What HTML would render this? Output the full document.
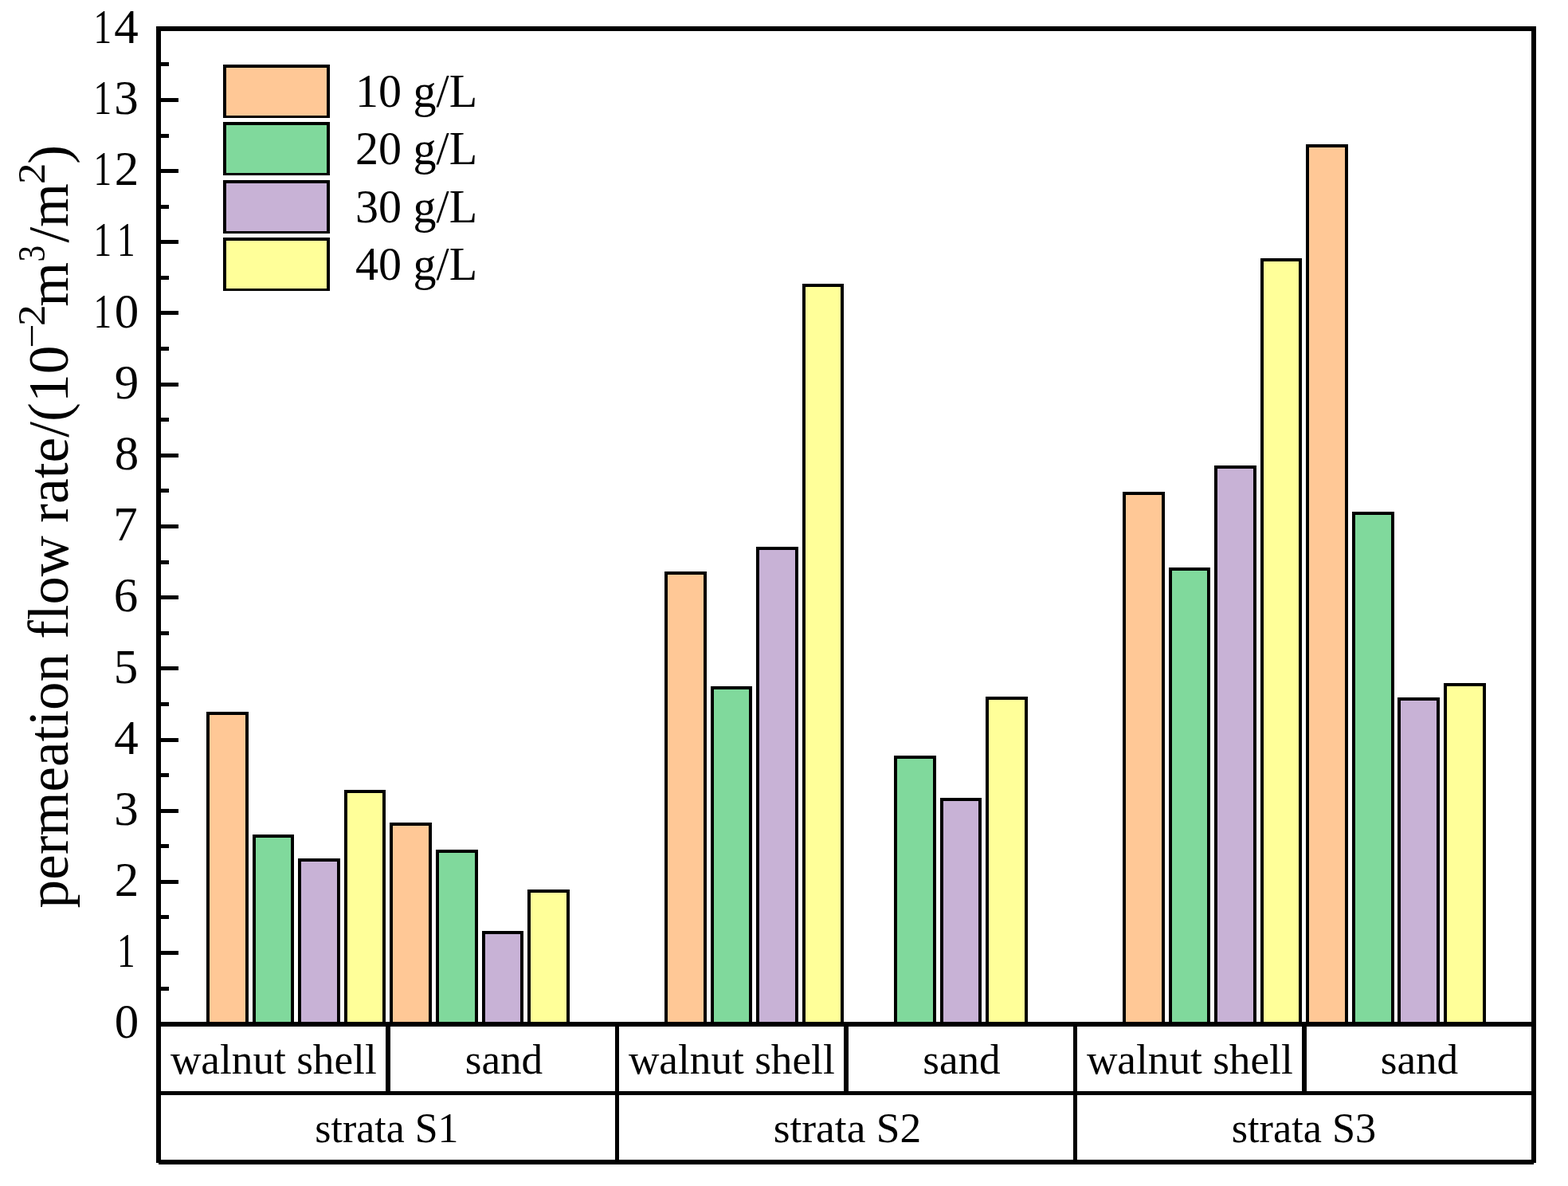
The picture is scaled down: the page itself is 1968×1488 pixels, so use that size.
<!DOCTYPE html>
<html><head><meta charset="utf-8"><style>
html,body{margin:0;padding:0;background:#fff;}
body{width:1968px;height:1488px;overflow:hidden;}
svg{display:block;}
text{font-family:"Liberation Serif","Times New Roman",serif;fill:#000;}
</style></head><body>
<svg width="1968" height="1488" viewBox="0 0 1968 1488">
<rect width="1968" height="1488" fill="#fff"/>
<rect x="259" y="893" width="53" height="391" fill="#000"/>
<rect x="263" y="897" width="45" height="387" fill="#FFC896"/>
<rect x="317" y="1047" width="52" height="237" fill="#000"/>
<rect x="321" y="1051" width="44" height="233" fill="#80D99C"/>
<rect x="374" y="1077" width="53" height="207" fill="#000"/>
<rect x="378" y="1081" width="45" height="203" fill="#C8B2D6"/>
<rect x="432" y="991" width="52" height="293" fill="#000"/>
<rect x="436" y="995" width="44" height="289" fill="#FFFF99"/>
<rect x="489" y="1032" width="53" height="252" fill="#000"/>
<rect x="493" y="1036" width="45" height="248" fill="#FFC896"/>
<rect x="547" y="1066" width="53" height="218" fill="#000"/>
<rect x="551" y="1070" width="45" height="214" fill="#80D99C"/>
<rect x="605" y="1168" width="52" height="116" fill="#000"/>
<rect x="609" y="1172" width="44" height="112" fill="#C8B2D6"/>
<rect x="662" y="1116" width="53" height="168" fill="#000"/>
<rect x="666" y="1120" width="45" height="164" fill="#FFFF99"/>
<rect x="834" y="717" width="53" height="567" fill="#000"/>
<rect x="838" y="721" width="45" height="563" fill="#FFC896"/>
<rect x="892" y="861" width="52" height="423" fill="#000"/>
<rect x="896" y="865" width="44" height="419" fill="#80D99C"/>
<rect x="949" y="686" width="53" height="598" fill="#000"/>
<rect x="953" y="690" width="45" height="594" fill="#C8B2D6"/>
<rect x="1007" y="356" width="52" height="928" fill="#000"/>
<rect x="1011" y="360" width="44" height="924" fill="#FFFF99"/>
<rect x="1122" y="948" width="53" height="336" fill="#000"/>
<rect x="1126" y="952" width="45" height="332" fill="#80D99C"/>
<rect x="1180" y="1001" width="52" height="283" fill="#000"/>
<rect x="1184" y="1005" width="44" height="279" fill="#C8B2D6"/>
<rect x="1237" y="874" width="53" height="410" fill="#000"/>
<rect x="1241" y="878" width="45" height="406" fill="#FFFF99"/>
<rect x="1409" y="617" width="53" height="667" fill="#000"/>
<rect x="1413" y="621" width="45" height="663" fill="#FFC896"/>
<rect x="1467" y="712" width="52" height="572" fill="#000"/>
<rect x="1471" y="716" width="44" height="568" fill="#80D99C"/>
<rect x="1524" y="584" width="53" height="700" fill="#000"/>
<rect x="1528" y="588" width="45" height="696" fill="#C8B2D6"/>
<rect x="1582" y="324" width="52" height="960" fill="#000"/>
<rect x="1586" y="328" width="44" height="956" fill="#FFFF99"/>
<rect x="1639" y="181" width="53" height="1103" fill="#000"/>
<rect x="1643" y="185" width="45" height="1099" fill="#FFC896"/>
<rect x="1697" y="642" width="53" height="642" fill="#000"/>
<rect x="1701" y="646" width="45" height="638" fill="#80D99C"/>
<rect x="1754" y="875" width="53" height="409" fill="#000"/>
<rect x="1758" y="879" width="45" height="405" fill="#C8B2D6"/>
<rect x="1812" y="857" width="53" height="427" fill="#000"/>
<rect x="1816" y="861" width="45" height="423" fill="#FFFF99"/>
<rect x="196" y="33" width="1732" height="6"/>
<rect x="196" y="33" width="6" height="1426"/>
<rect x="1922" y="33" width="6" height="1426"/>
<rect x="196" y="1282" width="1732" height="6"/>
<rect x="199" y="1369" width="1726" height="5"/>
<rect x="199" y="1455" width="1726" height="6"/>
<rect x="484" y="1288" width="6" height="81"/>
<rect x="772" y="1288" width="5" height="167"/>
<rect x="1059" y="1288" width="6" height="81"/>
<rect x="1347" y="1288" width="5" height="167"/>
<rect x="1634" y="1288" width="6" height="81"/>
<rect x="202" y="1282" width="22" height="5"/>
<rect x="202" y="1238" width="10" height="5"/>
<rect x="202" y="1193" width="22" height="5"/>
<rect x="202" y="1148" width="10" height="5"/>
<rect x="202" y="1104" width="22" height="5"/>
<rect x="202" y="1059" width="10" height="5"/>
<rect x="202" y="1015" width="22" height="5"/>
<rect x="202" y="970" width="10" height="5"/>
<rect x="202" y="926" width="22" height="5"/>
<rect x="202" y="881" width="10" height="5"/>
<rect x="202" y="836" width="22" height="5"/>
<rect x="202" y="792" width="10" height="5"/>
<rect x="202" y="747" width="22" height="5"/>
<rect x="202" y="703" width="10" height="5"/>
<rect x="202" y="658" width="22" height="5"/>
<rect x="202" y="613" width="10" height="5"/>
<rect x="202" y="569" width="22" height="5"/>
<rect x="202" y="524" width="10" height="5"/>
<rect x="202" y="480" width="22" height="5"/>
<rect x="202" y="435" width="10" height="5"/>
<rect x="202" y="390" width="22" height="5"/>
<rect x="202" y="346" width="10" height="5"/>
<rect x="202" y="301" width="22" height="5"/>
<rect x="202" y="257" width="10" height="5"/>
<rect x="202" y="212" width="22" height="5"/>
<rect x="202" y="168" width="10" height="5"/>
<rect x="202" y="123" width="22" height="5"/>
<rect x="202" y="78" width="10" height="5"/>
<rect x="202" y="34" width="22" height="5"/>
<text x="143.75" y="1302.45" font-size="61">0</text>
<text x="146.90" y="1213.27" font-size="61" textLength="22.60" lengthAdjust="spacingAndGlyphs">1</text>
<text x="143.75" y="1124.09" font-size="61">2</text>
<text x="143.25" y="1034.91" font-size="61">3</text>
<text x="143.25" y="945.73" font-size="61">4</text>
<text x="142.75" y="856.55" font-size="61">5</text>
<text x="142.75" y="767.37" font-size="61">6</text>
<text x="142.25" y="678.19" font-size="61">7</text>
<text x="143.75" y="589.01" font-size="61">8</text>
<text x="143.75" y="499.83" font-size="61">9</text>
<text x="117.40" y="410.65" font-size="61" textLength="22.60" lengthAdjust="spacingAndGlyphs">1</text>
<text x="143.75" y="410.65" font-size="61">0</text>
<text x="117.40" y="321.47" font-size="61" textLength="22.60" lengthAdjust="spacingAndGlyphs">1</text>
<text x="146.90" y="321.47" font-size="61" textLength="22.60" lengthAdjust="spacingAndGlyphs">1</text>
<text x="117.40" y="232.29" font-size="61" textLength="22.60" lengthAdjust="spacingAndGlyphs">1</text>
<text x="143.75" y="232.29" font-size="61">2</text>
<text x="117.40" y="143.11" font-size="61" textLength="22.60" lengthAdjust="spacingAndGlyphs">1</text>
<text x="143.25" y="143.11" font-size="61">3</text>
<text x="117.40" y="53.93" font-size="61" textLength="22.60" lengthAdjust="spacingAndGlyphs">1</text>
<text x="143.25" y="53.93" font-size="61">4</text>
<rect x="280" y="81.00" width="134" height="67" fill="#000"/>
<rect x="284" y="85.00" width="126" height="60" fill="#FFC896"/>
<text x="445.96" y="133.80" font-size="60" textLength="153.16" lengthAdjust="spacingAndGlyphs">10 g/L</text>
<rect x="280" y="153.00" width="134" height="67" fill="#000"/>
<rect x="284" y="157.00" width="126" height="60" fill="#80D99C"/>
<text x="445.96" y="206.20" font-size="60" textLength="153.16" lengthAdjust="spacingAndGlyphs">20 g/L</text>
<rect x="280" y="226.00" width="134" height="67" fill="#000"/>
<rect x="284" y="230.00" width="126" height="60" fill="#C8B2D6"/>
<text x="445.96" y="278.60" font-size="60" textLength="153.16" lengthAdjust="spacingAndGlyphs">30 g/L</text>
<rect x="280" y="298.00" width="134" height="67" fill="#000"/>
<rect x="284" y="302.00" width="126" height="60" fill="#FFFF99"/>
<text x="445.96" y="351.00" font-size="60" textLength="153.16" lengthAdjust="spacingAndGlyphs">40 g/L</text>
<text x="213.90" y="1346.7" font-size="53" textLength="258.82" lengthAdjust="spacingAndGlyphs">walnut shell</text>
<text x="583.69" y="1346.7" font-size="53" textLength="97.46" lengthAdjust="spacingAndGlyphs">sand</text>
<text x="788.90" y="1346.7" font-size="53" textLength="258.82" lengthAdjust="spacingAndGlyphs">walnut shell</text>
<text x="1158.19" y="1346.7" font-size="53" textLength="97.46" lengthAdjust="spacingAndGlyphs">sand</text>
<text x="1363.90" y="1346.7" font-size="53" textLength="258.82" lengthAdjust="spacingAndGlyphs">walnut shell</text>
<text x="1732.69" y="1346.7" font-size="53" textLength="97.46" lengthAdjust="spacingAndGlyphs">sand</text>
<text x="395.32" y="1433" font-size="52.5" textLength="180.21" lengthAdjust="spacingAndGlyphs">strata S1</text>
<text x="970.66" y="1433" font-size="52.5" textLength="185.56" lengthAdjust="spacingAndGlyphs">strata S2</text>
<text x="1545.71" y="1433" font-size="52.5" textLength="181.55" lengthAdjust="spacingAndGlyphs">strata S3</text>
<g transform="rotate(-90)"><text x="-1139.39" y="85" font-size="72" textLength="319.43" lengthAdjust="spacingAndGlyphs">permeation</text><text x="-801.76" y="85" font-size="72" textLength="129.45" lengthAdjust="spacingAndGlyphs">flow</text><text x="-655.89" y="85" font-size="72" textLength="222.25" lengthAdjust="spacingAndGlyphs">rate/(10</text><text x="-436.97" y="55.8" font-size="48" textLength="30.40" lengthAdjust="spacingAndGlyphs">−</text><text x="-409.13" y="55.8" font-size="48" textLength="26.78" lengthAdjust="spacingAndGlyphs">2</text><text x="-384.70" y="85" font-size="72" textLength="55.91" lengthAdjust="spacingAndGlyphs">m</text><text x="-328.51" y="55.8" font-size="48" textLength="20.58" lengthAdjust="spacingAndGlyphs">3</text><text x="-304.60" y="85" font-size="72" textLength="74.60" lengthAdjust="spacingAndGlyphs">/m</text><text x="-231.11" y="55.8" font-size="48" textLength="26.53" lengthAdjust="spacingAndGlyphs">2</text><text x="-205.80" y="85" font-size="72" textLength="23.98" lengthAdjust="spacingAndGlyphs">)</text></g>
</svg>
</body></html>
